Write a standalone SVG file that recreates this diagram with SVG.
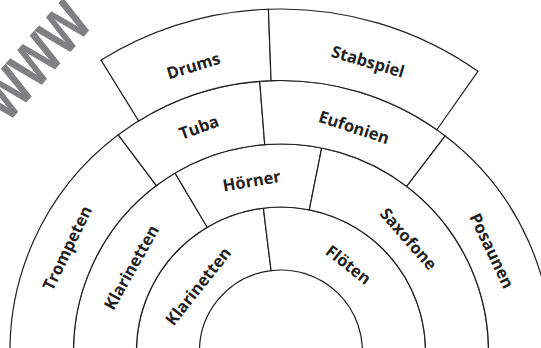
<svg xmlns="http://www.w3.org/2000/svg" width="541" height="348" viewBox="0 0 541 348">
<style>
.seg{fill:#fff;stroke:#231f20;stroke-width:1.2;stroke-linejoin:miter}
.lbl{font-family:"Open Sans","Noto Sans","DejaVu Sans",sans-serif;font-weight:700;font-size:16.5px;fill:#231f20;text-anchor:middle}
.wm{font-family:"Liberation Sans",Arial,sans-serif;font-weight:700;font-size:78px;fill:#808083;text-anchor:middle}
</style>
<rect width="541" height="348" fill="#fff"/>
<g id="watermark"><text class="wm" transform="translate(36,61) rotate(-49) scale(0.72,1)" y="20">www</text></g>
<g id="connectors"></g>
<g id="ring1-klarinetten"><path class="seg" d="M 137.05 364.09 A 144.5 144.5 0 0 1 263.39 208.08 L 271.07 270.61 A 81.5 81.5 0 0 0 199.81 358.60 Z"/><text class="lbl" transform="translate(198.3,286.3) rotate(-51.6)" y="5.7">Klarinetten</text></g>
<g id="ring1-floeten"><path class="seg" d="M 263.39 208.08 A 144.5 144.5 0 0 1 424.95 364.09 L 362.19 358.60 A 81.5 81.5 0 0 0 271.07 270.61 Z"/><text class="lbl" transform="translate(348.3,264.8) rotate(38)" y="5.7">Flöten</text></g>
<g id="ring2-klarinetten"><path class="seg" d="M 74.29 369.59 A 207.5 207.5 0 0 1 175.06 173.08 L 207.22 227.25 A 144.5 144.5 0 0 0 137.05 364.09 Z"/><text class="lbl" transform="translate(131.5,267.5) rotate(-60.6)" y="5.7">Klarinetten</text></g>
<g id="ring2-hoerner"><path class="seg" d="M 175.06 173.08 A 207.5 207.5 0 0 1 321.66 148.02 L 309.31 209.80 A 144.5 144.5 0 0 0 207.22 227.25 Z"/><text class="lbl" transform="translate(251.7,181) rotate(-9.6)" y="5.7">Hörner</text></g>
<g id="ring2-saxofone"><path class="seg" d="M 321.66 148.02 A 207.5 207.5 0 0 1 487.71 369.59 L 424.95 364.09 A 144.5 144.5 0 0 0 309.31 209.80 Z"/><text class="lbl" transform="translate(408.3,239) rotate(48.6)" y="5.7">Saxofone</text></g>
<g id="ring3-trompeten"><path class="seg" d="M 11.03 375.12 A 271 271 0 0 1 118.29 134.79 L 156.41 185.57 A 207.5 207.5 0 0 0 74.29 369.59 Z"/><text class="lbl" transform="translate(69,249) rotate(-64.1)" y="3.9">Trompeten</text></g>
<g id="ring3-tuba"><path class="seg" d="M 118.29 134.79 A 271 271 0 0 1 259.74 81.33 L 264.72 144.64 A 207.5 207.5 0 0 0 156.41 185.57 Z"/><text class="lbl" transform="translate(199,127.5) rotate(-20)" y="5.7">Tuba</text></g>
<g id="ring3-eufonien"><path class="seg" d="M 259.74 81.33 A 271 271 0 0 1 445.22 135.93 L 406.74 186.44 A 207.5 207.5 0 0 0 264.72 144.64 Z"/><text class="lbl" transform="translate(354,127.5) rotate(18)" y="5.7">Eufonien</text></g>
<g id="ring3-posaunen"><path class="seg" d="M 445.22 135.93 A 271 271 0 0 1 550.97 375.12 L 487.71 369.59 A 207.5 207.5 0 0 0 406.74 186.44 Z"/><text class="lbl" transform="translate(491.7,250.8) rotate(64.5)" y="5.7">Posaunen</text></g>
<g id="ring4-drums"><path class="seg" d="M 101.03 60.10 A 342.5 342.5 0 0 1 268.45 9.23 L 271.07 80.68 A 271 271 0 0 0 138.60 120.93 Z"/><text class="lbl" transform="translate(193.5,66) rotate(-16.9)" y="5.7">Drums</text></g>
<g id="ring4-stabspiel"><path class="seg" d="M 268.45 9.23 A 342.5 342.5 0 0 1 477.94 71.28 L 436.83 129.78 A 271 271 0 0 0 271.07 80.68 Z"/><text class="lbl" transform="translate(367.5,63.5) rotate(16.5)" y="3.9">Stabspiel</text></g>
</svg>
